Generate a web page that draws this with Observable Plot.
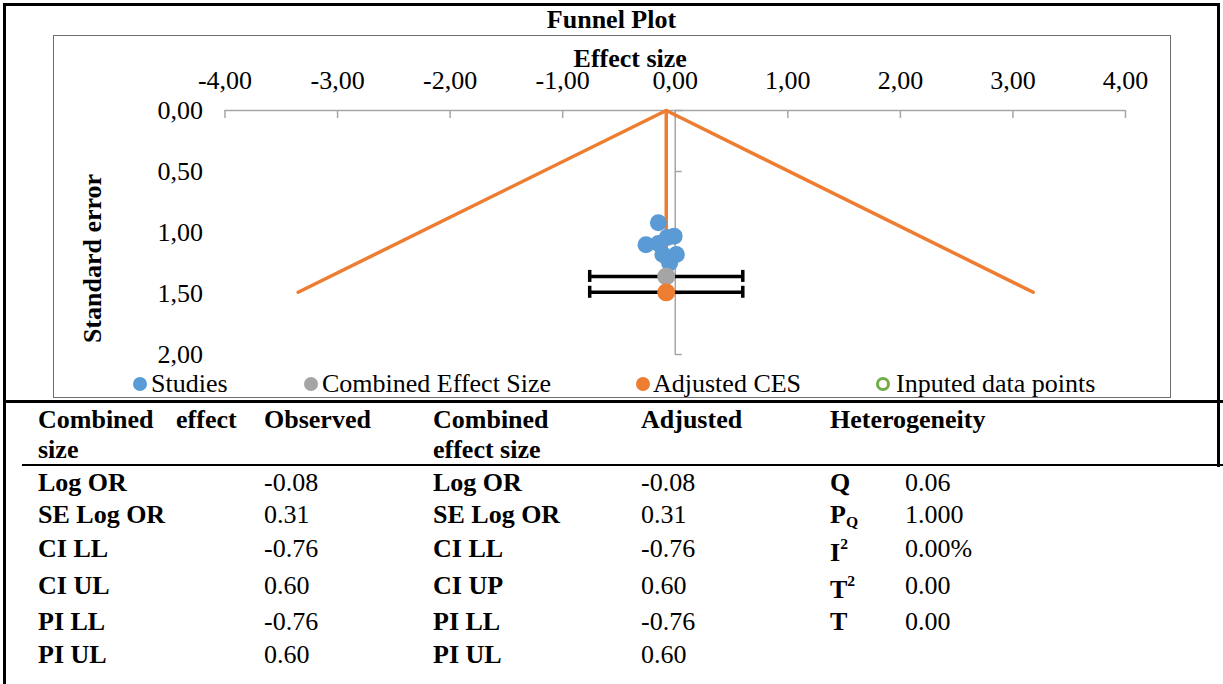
<!DOCTYPE html>
<html>
<head>
<meta charset="utf-8">
<script src="https://cdn.jsdelivr.net/npm/d3@7"></script>
<script src="https://cdn.jsdelivr.net/npm/@observablehq/plot@0.6"></script>
<style>
  html, body { margin: 0; padding: 0; background: #fff; overflow: hidden; }
  #page { position: relative; width: 1223px; height: 684px; font-family: "Liberation Serif", "Times New Roman", serif; color: #000; }
  .abs { position: absolute; line-height: 1; white-space: pre; }
  .b { font-weight: bold; }
  .t26 { font-size: 26px; }
  .rule { position: absolute; background: #000; }
  sub { font-size: 60%; vertical-align: -0.25em; }
  sup { font-size: 60%; vertical-align: 0.75em; }
  #chart { position: absolute; left: 0; top: 0; }
  #chart text { font-family: "Liberation Serif", "Times New Roman", serif; }
</style>
</head>
<body>
<div id="page"></div>
<script>
// ---------------- data ----------------
const xTicks = [-4, -3, -2, -1, 0, 1, 2, 3, 4];
const yTicks = [0, 0.5, 1, 1.5, 2];

// individual studies (effect size, standard error)
const studyES = [-0.15, -0.01, -0.26, -0.15, -0.07, 0.01, -0.06, -0.11, -0.05];
const studySE = [0.92, 1.03, 1.10, 1.09, 1.04, 1.18, 1.22, 1.18, 1.25];

// combined effect size & adjusted CES
const cesNames = ["Combined Effect Size", "Adjusted CES"];
const cesES = [-0.08, -0.08];
const cesSE = [1.36, 1.49];
const cesLo = [-0.76, -0.76];
const cesHi = [0.60, 0.60];

// funnel (effect size, standard error)
const funnelES = [-3.35, -0.08, 3.18];
const funnelSE = [1.49, 0, 1.49];
const centerES = [-0.08, -0.08];
const centerSE = [0, 1.49];

// legend
const legendLabels = ["Studies", "Combined Effect Size", "Adjusted CES", "Inputed data points"];

// table
const headers = ["Combined effect\nsize", "Observed", "Combined\neffect size", "Adjusted", "Heterogeneity"];
const rowLabels = ["Log OR", "SE Log OR", "CI LL", "CI UL", "PI LL", "PI UL"];
const observed = ["-0.08", "0.31", "-0.76", "0.60", "-0.76", "0.60"];
const rowLabels2 = ["Log OR", "SE Log OR", "CI LL", "CI UP", "PI LL", "PI UL"];
const adjusted = ["-0.08", "0.31", "-0.76", "0.60", "-0.76", "0.60"];
const hetLabels = ["Q", "P<sub>Q</sub>", "I<sup>2</sup>", "T<sup>2</sup>", "T"];
const hetValues = ["0.06", "1.000", "0.00%", "0.00", "0.00"];

// ---------------- styles ----------------
const BLUE = "#5b9bd5", GRAY = "#a5a5a5", ORANGE = "#ed7d31", GREEN = "#70ad47";
const AXIS = "#a6a6a6";
const SERIF = "Liberation Serif";
const fmt = d => d.toFixed(2).replace(".", ",");

const studies = studyES.map((x, i) => ({x, se: studySE[i]}));
const ces = cesNames.map((name, i) => ({name, x: cesES[i], se: cesSE[i], lo: cesLo[i], hi: cesHi[i]}));
const caps = ces.flatMap(d => [{x: d.lo, se: d.se}, {x: d.hi, se: d.se}]);
const funnel = funnelES.map((x, i) => ({x, se: funnelSE[i]}));
const center = centerES.map((x, i) => ({x, se: centerSE[i]}));

const page = document.getElementById("page");
function el(cls, css, html) {
  const d = document.createElement("div");
  d.className = cls;
  Object.assign(d.style, css);
  d.innerHTML = html || "";
  page.appendChild(d);
  return d;
}

// frames and rules
el("rule", {left: "3px", top: "3px", width: "3px", height: "681px"});
el("rule", {left: "3px", top: "3px", width: "1217px", height: "3px"});
el("rule", {left: "1217px", top: "3px", width: "3px", height: "464px"});
el("", {position: "absolute", left: "53px", top: "35px", width: "1116px", height: "361px", border: "1.5px solid #6d6d6d"});
el("rule", {left: "3px", top: "400px", width: "1220px", height: "3px"});
el("rule", {left: "22px", top: "464px", width: "1201px", height: "2px"});

// title
el("abs b t26", {left: "0px", top: "7px", width: "1223px", textAlign: "center"}, "Funnel Plot");

// ---------------- chart ----------------
const chart = Plot.plot({
  width: 1223,
  height: 400,
  marginLeft: 224.5,
  marginRight: 98,
  marginTop: 110,
  marginBottom: 46,
  x: {domain: [-4, 4]},
  y: {domain: [0, 2], reverse: true},
  style: {fontFamily: SERIF, fontSize: "26px", background: "transparent", overflow: "visible", color: "#000"},
  marks: [
    Plot.ruleY([0], {stroke: AXIS, strokeWidth: 1.5}),
    Plot.ruleX([0], {stroke: AXIS, strokeWidth: 1.5}),
    Plot.ruleX(xTicks, {x: d => d, y1: 0, y2: 0, insetBottom: -8, stroke: AXIS, strokeWidth: 1.5}),
    Plot.ruleY(yTicks, {y: d => d, x1: 0, x2: 0, insetRight: -7, stroke: AXIS, strokeWidth: 1.5}),
    Plot.axisX(xTicks, {anchor: "top", tickSize: 0, tickPadding: 22, tickFormat: fmt, label: null, fontSize: 26, fontFamily: SERIF}),
    Plot.axisY(yTicks, {anchor: "left", tickSize: 0, tickPadding: 22, tickFormat: fmt, label: null, fontSize: 26, fontFamily: SERIF}),
    Plot.line(funnel, {x: "x", y: "se", stroke: ORANGE, strokeWidth: 3.5}),
    Plot.line(center, {x: "x", y: "se", stroke: ORANGE, strokeWidth: 3.5}),
    Plot.ruleY(ces, {y: "se", x1: "lo", x2: "hi", stroke: "#000", strokeWidth: 3.5}),
    Plot.ruleX(caps, {x: "x", y1: "se", y2: "se", insetTop: -6, insetBottom: -6, stroke: "#000", strokeWidth: 3.5}),
    Plot.dot(studies, {x: "x", y: "se", r: 8.5, fill: BLUE}),
    Plot.dot(ces, {x: "x", y: "se", r: 9, fill: d => d.name === "Adjusted CES" ? ORANGE : GRAY}),
    Plot.text(["Effect size"], {frameAnchor: "top", dx: -45, dy: -62, fontWeight: "bold", fontSize: 26, fontFamily: SERIF}),
    Plot.text(["Standard error"], {frameAnchor: "left", textAnchor: "middle", dx: -132, dy: 26, rotate: -90, fontWeight: "bold", fontSize: 26, fontFamily: SERIF})
  ]
});
chart.id = "chart";
page.appendChild(chart);

// ---------------- legend ----------------
const legendColors = [BLUE, GRAY, ORANGE, GREEN];
const legendDotX = [133, 304, 636, 876];
const legendTextX = [151, 322, 653, 896];
legendLabels.forEach((lab, i) => {
  const hollow = i === 3;
  el("", {
    position: "absolute", left: legendDotX[i] + "px", top: "377px",
    width: "14px", height: "14px", borderRadius: "50%", boxSizing: "border-box",
    background: hollow ? "#fff" : legendColors[i],
    border: hollow ? `3px solid ${legendColors[i]}` : "none"
  });
  el("abs t26", {left: legendTextX[i] + "px", top: "371px"}, lab);
});

// ---------------- table ----------------
const colX = [38, 264, 433, 641, 830];
headers.forEach((h, i) => {
  el("abs b t26", {left: colX[i] + "px", top: "406px", lineHeight: "30px", marginTop: "-1px", wordSpacing: i === 0 ? "16px" : "0px"}, h);
});
const rowTops = [470, 502, 536, 573, 609, 642];
rowLabels.forEach((lab, i) => {
  el("abs b t26", {left: colX[0] + "px", top: rowTops[i] + "px"}, lab);
  el("abs t26", {left: colX[1] + "px", top: rowTops[i] + "px"}, observed[i]);
  el("abs b t26", {left: colX[2] + "px", top: rowTops[i] + "px"}, rowLabels2[i]);
  el("abs t26", {left: colX[3] + "px", top: rowTops[i] + "px"}, adjusted[i]);
});
hetLabels.forEach((lab, i) => {
  el("abs b t26", {left: colX[4] + "px", top: rowTops[i] + "px"}, lab);
  el("abs t26", {left: "905px", top: rowTops[i] + "px"}, hetValues[i]);
});
</script>
</body>
</html>
